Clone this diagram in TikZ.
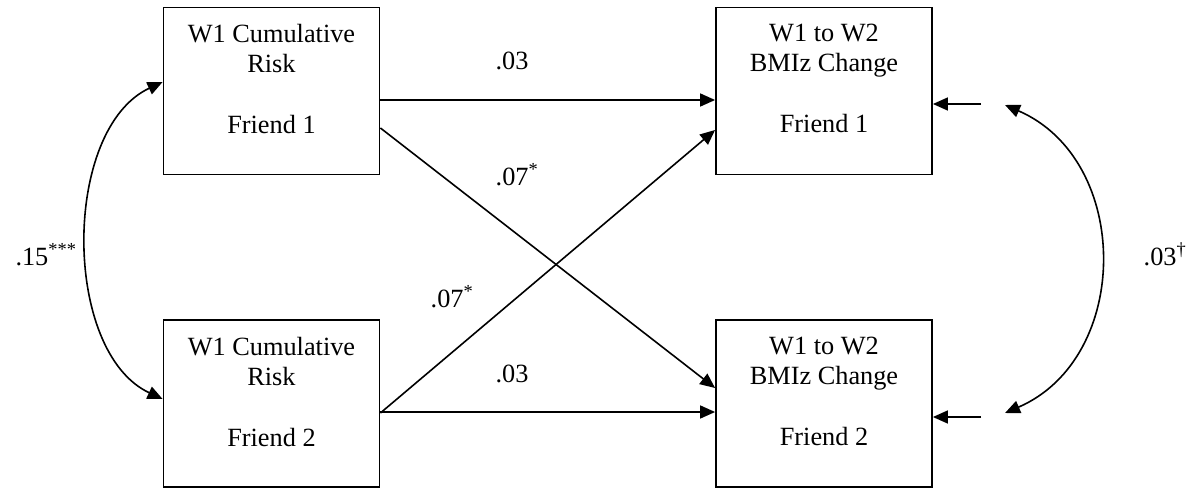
\documentclass[tikz,border=0pt]{standalone}
\usepackage{fontspec}
\setmainfont{Liberation Serif}
\usetikzlibrary{arrows.meta}
\begin{document}
\begin{tikzpicture}[x=1pt,y=-1pt,
  box/.style={draw, line width=1.8pt, minimum width=216pt, minimum height=167pt, inner sep=0pt},
  boxtext/.style={align=center, inner sep=0pt, anchor=north, font=\fontsize{26.3}{30.3}\selectfont},
  coef/.style={inner sep=0pt, anchor=base, font=\fontsize{26.3}{30.3}\selectfont},
  path/.style={line width=1.6pt, -{Triangle[length=15pt,width=13pt]}},
  cov/.style={line width=1.6pt, {Triangle[length=15pt,width=13pt]}-{Triangle[length=15pt,width=13pt]}}]
\useasboundingbox (0,0) rectangle (1193,492);

% predictor and outcome boxes
\node[box] (a1) at (271.5,91) {};
\node[box] (a2) at (271.5,403.5) {};
\node[box] (b1) at (824,91) {};
\node[box] (b2) at (824,403.5) {};

\node[boxtext] (a1t) at (271.5,24) {W1 Cumulative\\Risk\\[30.3pt]Friend 1};
\node[boxtext] (a2t) at (271.5,337) {W1 Cumulative\\Risk\\[30.3pt]Friend 2};
\node[boxtext] (b1t) at (824,24) {W1 to W2\\BMIz Change\\[30.3pt]Friend 1};
\node[boxtext] (b2t) at (824,337) {W1 to W2\\BMIz Change\\[30.3pt]Friend 2};

% regression paths
\draw[path] ([yshift=-9pt]a1.east) -- ([yshift=-9pt]b1.west);
\draw[path] ([yshift=-37pt]a1.east) -- ([yshift=15.5pt]b2.west);
\draw[path] ([yshift=-9.5pt]a2.east) -- ([yshift=-39pt]b1.west);
\draw[path] ([yshift=-8.5pt]a2.east) -- ([yshift=-8.5pt]b2.west);

% residual terms of the outcomes
\coordinate (e1) at (981,104);
\coordinate (e2) at (981,417);
\draw[path] (e1) -- ([yshift=-13pt]b1.east);
\draw[path] (e2) -- ([yshift=-13.5pt]b2.east);

% covariances
\draw[cov] ([yshift=9pt]a1.west) .. controls (62,129) and (62,352) .. ([yshift=4.5pt]a2.west);
\coordinate (r1) at (1005,105);
\coordinate (r2) at (1005,413);
\draw[cov] (r1) .. controls (1132,160) and (1132,358) .. (r2);

% coefficients
\node[coef] (c1) at (512,70) {.03};
\node[coef] (c2) at (517,185) {.07\textsuperscript{*}};
\node[coef] (c3) at (452,307) {.07\textsuperscript{*}};
\node[coef] (c4) at (512,382) {.03};
\node[coef] (c5) at (46,265) {.15\textsuperscript{***}};
\node[coef] (c6) at (1165,265) {.03\textsuperscript{\textdagger}};
\end{tikzpicture}
\end{document}
